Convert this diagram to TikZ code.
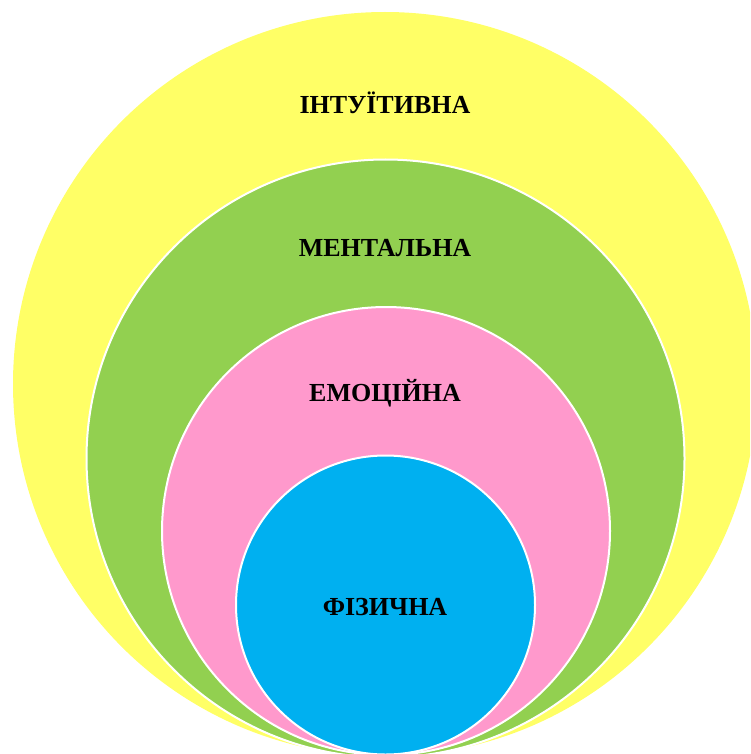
\documentclass[tikz,border=0pt]{standalone}
\usepackage{fontspec}
\setmainfont{Liberation Serif}
\usetikzlibrary{positioning}
\definecolor{intuitcol}{HTML}{FFFF66}
\definecolor{mentalcol}{HTML}{92D050}
\definecolor{emotcol}{HTML}{FF99CC}
\definecolor{physcol}{HTML}{00B0F0}

\begin{document}
\begin{tikzpicture}[x=1pt,y=-1pt]
  \tikzset{
    layer/.style={
      circle,
      draw=white,
      line width=2pt,
      inner sep=0pt
    },
    lname/.style={
      font=\fontsize{26}{30}\selectfont\bfseries,
      text=black
    }
  }

  \clip (0,0) rectangle (750,754);

  % Layers
  \node[layer, draw=none, fill=intuitcol, minimum size=744pt] (intuit) at (385,384) {};
  \node[layer, fill=mentalcol, minimum size=598pt] (mental) at (385.5,458.5) {};
  \node[layer, fill=emotcol, minimum size=448pt] (emot) at (386,531) {};
  \node[layer, fill=physcol, minimum size=299pt] (phys) at (385.5,605) {};

  % Labels
  \node[lname] (tintuit) at (385,103) {ІНТУЇТИВНА};
  \node[lname] (tmental) at (385,248) {МЕНТАЛЬНА};
  \node[lname] (temot) at (385,393) {ЕМОЦІЙНА};
  \node[lname] (tphys) at (385,607) {ФІЗИЧНА};
\end{tikzpicture}
\end{document}
